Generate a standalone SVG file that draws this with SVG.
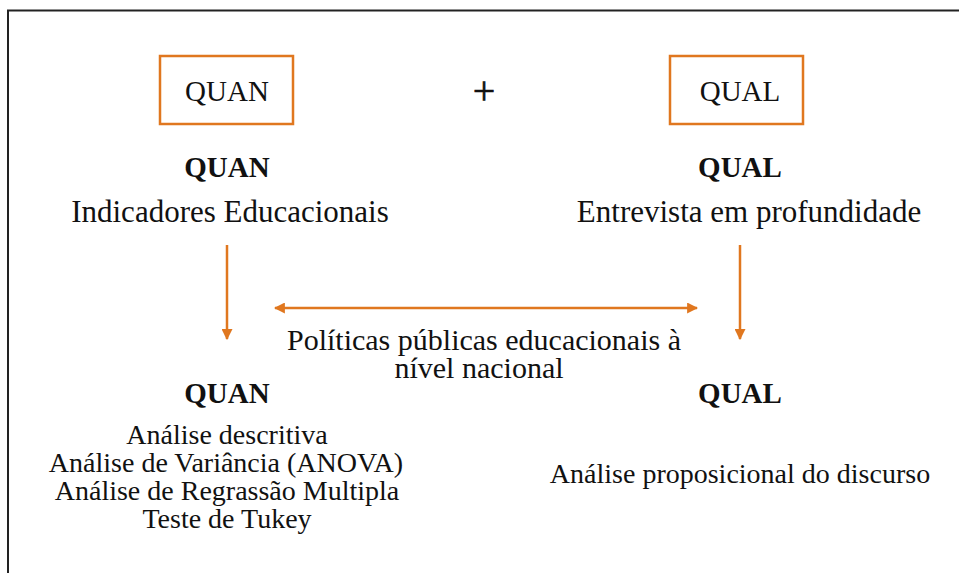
<svg xmlns="http://www.w3.org/2000/svg" width="959" height="573" viewBox="0 0 959 573">
<style>
text{font-family:"Liberation Serif","Times New Roman",serif;fill:#111;text-anchor:middle}
.b{font-weight:bold;font-size:29px}
.h{font-size:31px}
.m{font-size:30px}
.s{font-size:28px}
.box{fill:none;stroke:#E0771F;stroke-width:2.5}
.c{stroke:#E0771F;stroke-width:2.5;fill:none}
</style>
<defs>
<marker id="ah" viewBox="0 0 10 10" refX="9" refY="5" markerWidth="4.4" markerHeight="4.4" orient="auto-start-reverse" markerUnits="strokeWidth">
<path d="M0,0 L10,5 L0,10 Z" fill="#E0771F"/>
</marker>
</defs>
<rect width="959" height="573" fill="#fff"/>
<path d="M8,573 V10.5 H959" fill="none" stroke="#222" stroke-width="2"/>
<g id="quan-box">
<rect class="box" x="160" y="56" width="133" height="68"/>
<text x="227" y="101" style="font-size:29px">QUAN</text>
</g>
<g id="plus"><text x="484" y="104" style="font-size:40px;stroke:#111;stroke-width:0.6">+</text></g>
<g id="qual-box">
<rect class="box" x="670" y="56" width="133" height="68"/>
<text x="740" y="101" style="font-size:29px">QUAL</text>
</g>
<g id="quan-top">
<text class="b" x="227" y="177">QUAN</text>
<text class="h" x="230" y="222">Indicadores Educacionais</text>
</g>
<g id="qual-top">
<text class="b" x="740" y="177">QUAL</text>
<text class="h" x="749" y="222">Entrevista em profundidade</text>
</g>
<g id="policy">
<text class="m" x="484" y="350">Políticas públicas educacionais à</text>
<text class="m" x="479" y="378">nível nacional</text>
</g>
<g id="quan-bottom">
<text class="b" x="227" y="403">QUAN</text>
<text class="s" x="227" y="444">Análise descritiva</text>
<text class="s" x="226" y="472">Análise de Variância (ANOVA)</text>
<text class="s" x="227" y="500">Análise de Regrassão Multipla</text>
<text class="s" x="227" y="528">Teste de Tukey</text>
</g>
<g id="qual-bottom">
<text class="b" x="740" y="403">QUAL</text>
<text class="s" x="740" y="483">Análise proposicional do discurso</text>
</g>
<g id="connectors">
<line class="c" x1="227" y1="245" x2="227" y2="339" marker-end="url(#ah)"/>
<line class="c" x1="740" y1="245" x2="740" y2="339" marker-end="url(#ah)"/>
<line class="c" x1="275" y1="308" x2="697" y2="308" marker-start="url(#ah)" marker-end="url(#ah)"/>
</g>
</svg>
